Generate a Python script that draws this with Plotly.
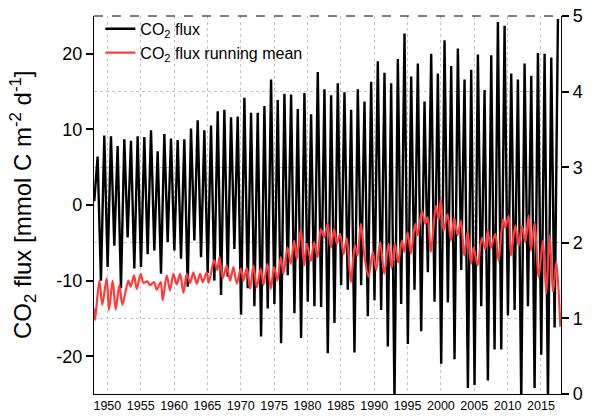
import plotly.graph_objects as go

# ---------------- data ----------------
years = list(range(1948, 2018))

# annual maximum of CO2 flux (around July) [mmol C m-2 d-1]
peak_flux = [6.4, 9.2, 9.1, 7.8, 8.7, 8.5, 9.1, 9.0, 9.9, 7.1,
             9.4, 8.8, 8.6, 8.7, 10.1, 11.2, 9.9, 10.5, 12.4, 12.6,
             11.6, 11.7, 14.2, 12.2, 12.2, 13.1, 16.6, 13.9, 14.7, 14.6,
             12.7, 14.8, 12.0, 17.6, 15.3, 14.5, 16.1, 14.9, 12.6, 15.3,
             13.7, 16.3, 19.0, 17.5, 16.1, 19.3, 22.7, 17.0, 18.7, 13.7,
             20.0, 17.4, 21.8, 18.4, 20.7, 16.6, 17.9, 19.9, 15.2, 19.8,
             24.2, 23.7, 17.4, 16.6, 18.7, 17.1, 20.1, 20.0, 19.5, 24.6]

# following winter minimum (January of the next year), years 1948..2016
trough_flux = [-10.0, -8.2, -5.4, -11.0, -4.3, -8.4, -8.2, -6.5, -6.0, -9.1,
               -4.9, -6.0, -7.1, -10.8, -4.7, -6.9, -9.0, -10.0, -11.9, -9.5,
               -5.8, -14.5, -11.0, -13.4, -17.4, -13.7, -13.1, -18.3, -9.3, -14.3,
               -17.6, -12.8, -13.4, -13.5, -19.6, -15.6, -10.6, -11.2, -19.5, -10.6,
               -14.7, -12.6, -13.9, -18.7, -26.0, -13.1, -18.4, -11.2, -16.7, -8.9,
               -12.8, -21.0, -12.9, -20.4, -8.6, -24.2, -23.8, -13.4, -23.2, -19.1,
               -19.1, -14.6, -13.9, -26.0, -13.4, -24.2, -19.8, -26.0, -16.2]

start_flux = 0.5
PEAK_MONTH = 7
TROUGH_MONTH = 1

# running mean (right axis): turning points (decimal year, value)
rm_year = [1948.0, 1948.15, 1948.8, 1949.25, 1949.9, 1950.25, 1950.8, 1951.25, 1951.8, 1952.25,
           1953.15, 1953.5, 1954.0, 1954.4, 1955.0, 1955.4, 1956.0, 1956.4, 1957.0, 1957.4,
           1958.0, 1958.3, 1958.9, 1959.4, 1959.9, 1960.4, 1960.9, 1961.4, 1961.9, 1962.4,
           1962.9, 1963.4, 1963.9, 1964.3, 1964.9, 1965.2, 1966.0, 1966.5, 1966.8, 1967.3,
           1967.9, 1968.4, 1968.9, 1969.4, 1970.0, 1970.4, 1970.9, 1971.4, 1971.9, 1972.4,
           1973.0, 1973.4, 1974.0, 1974.5, 1975.0, 1975.5, 1976.0, 1976.4, 1977.0, 1977.5,
           1978.0, 1978.4, 1979.0, 1979.5, 1979.9, 1980.5, 1981.0, 1981.5, 1982.0, 1982.5,
           1983.0, 1983.5, 1984.0, 1984.4, 1984.9, 1985.4, 1985.9, 1986.5, 1987.1, 1987.5,
           1988.0, 1988.5, 1989.15, 1989.8, 1990.3, 1990.9, 1991.5, 1992.15, 1992.6, 1993.1,
           1993.6, 1994.15, 1994.5, 1995.0, 1995.5, 1996.15, 1996.5, 1997.15, 1997.65, 1998.0,
           1998.5, 1999.25, 1999.65, 2000.0, 2000.4, 2001.0, 2001.5, 2002.0, 2002.5, 2003.0,
           2003.5, 2004.0, 2004.5, 2004.9, 2005.5, 2006.15, 2006.65, 2007.0, 2007.5, 2008.15,
           2008.65, 2009.3, 2009.65, 2010.15, 2010.5, 2011.15, 2011.65, 2012.15, 2012.65, 2013.15,
           2013.5, 2014.05, 2014.65, 2015.3, 2015.8, 2016.3, 2016.8, 2017.3, 2017.9]
rm_value = [1.13, 0.98, 1.50, 1.18, 1.53, 1.11, 1.50, 1.12, 1.44, 1.18,
            1.50, 1.42, 1.57, 1.39, 1.59, 1.47, 1.49, 1.44, 1.48, 1.38,
            1.48, 1.24, 1.57, 1.37, 1.59, 1.45, 1.59, 1.34, 1.59, 1.47,
            1.61, 1.46, 1.59, 1.48, 1.61, 1.47, 1.77, 1.64, 1.81, 1.53,
            1.70, 1.50, 1.68, 1.46, 1.66, 1.50, 1.67, 1.39, 1.70, 1.41,
            1.66, 1.44, 1.72, 1.39, 1.68, 1.50, 1.81, 1.59, 1.94, 1.72,
            2.03, 1.79, 2.18, 1.70, 1.99, 1.76, 2.01, 1.81, 2.18, 2.07,
            2.25, 1.94, 2.18, 1.99, 2.12, 1.85, 2.06, 1.48, 1.97, 1.83,
            2.25, 1.85, 1.55, 1.88, 1.64, 2.01, 1.59, 1.99, 1.66, 1.99,
            1.74, 2.03, 1.88, 2.14, 1.86, 2.25, 2.10, 2.42, 2.25, 2.34,
            1.88, 2.49, 2.31, 2.58, 2.16, 2.38, 2.03, 2.33, 2.10, 2.29,
            1.83, 2.15, 1.72, 1.94, 1.70, 2.07, 1.92, 2.16, 1.94, 2.12,
            1.76, 2.31, 2.20, 2.36, 1.83, 2.23, 1.96, 2.22, 2.01, 2.36,
            1.90, 2.27, 1.55, 2.03, 1.33, 2.10, 1.35, 1.75, 0.89]

x_ticks = [1950, 1955, 1960, 1965, 1970, 1975, 1980, 1985, 1990, 1995, 2000, 2005, 2010, 2015]
left_ticks = [-20, -10, 0, 10, 20]
left_ticktext = ["-20", "-10", "0", "10", "20"]
right_ticks = [0, 1, 2, 3, 4, 5]

# ---------------- build the flux line from the extrema ----------------
bx = [years[0] + (TROUGH_MONTH - 0.5) / 12]
by = [start_flux]
for i, yr in enumerate(years):
    bx.append(yr + (PEAK_MONTH - 0.5) / 12)
    by.append(peak_flux[i])
    if i < len(trough_flux):
        bx.append(yr + 1 + (TROUGH_MONTH - 0.5) / 12)
        by.append(trough_flux[i])

FONT = "Liberation Sans, Arial, sans-serif"
GRID = "#c4c4c4"

fig = go.Figure()
fig.add_trace(go.Scatter(
    x=bx, y=by, mode="lines", name="CO<sub>2</sub> flux",
    line=dict(color="black", width=2.4)))
fig.add_trace(go.Scatter(
    x=rm_year, y=rm_value, mode="lines", yaxis="y2",
    name="CO<sub>2</sub> flux running mean",
    line=dict(color="#ff3b3b", width=2.2, shape="spline", smoothing=0.8)))

fig.update_layout(
    width=592, height=418,
    margin=dict(l=94, r=31, t=14, b=24),
    paper_bgcolor="white", plot_bgcolor="white",
    font=dict(family=FONT, color="black"),
    showlegend=True,
    legend=dict(x=0.0136, y=1.011, xanchor="left", yanchor="top",
                bgcolor="rgba(0,0,0,0)", font=dict(size=16, family=FONT),
                tracegroupgap=0, itemwidth=30),
    xaxis=dict(range=[1948, 2018], tickvals=x_ticks, showgrid=True,
               gridcolor=GRID, griddash="dot", gridwidth=1,
               showline=True, linecolor="black", linewidth=1.2,
               ticks="", tickfont=dict(size=12.5), zeroline=False,
               automargin=False),
    yaxis=dict(range=[-25, 25], tickvals=left_ticks, ticktext=left_ticktext,
               showgrid=False, showline=True, linecolor="black", linewidth=1.2,
               ticks="outside", ticklen=7, tickwidth=1.5, tickcolor="black",
               tickfont=dict(size=18), zeroline=False, automargin=False),
    yaxis2=dict(range=[0, 5], tickvals=right_ticks, overlaying="y", side="right",
                showgrid=True, gridcolor=GRID, griddash="dot", gridwidth=1,
                showline=True, linecolor="black", linewidth=1.2,
                ticks="outside", ticklen=7, tickwidth=1.5, tickcolor="black",
                tickfont=dict(size=18), zeroline=False, automargin=False),
    shapes=[dict(type="line", xref="paper", yref="paper", x0=0, x1=1, y0=1, y1=1,
                 line=dict(color="black", width=1, dash="dash"))],
    annotations=[dict(text="CO<sub>2</sub> flux [mmol C m<sup>-2</sup> d<sup>-1</sup>]",
                      xref="paper", yref="paper", x=-0.152, y=0.5,
                      xanchor="center", yanchor="middle", textangle=-90,
                      showarrow=False, font=dict(size=24, family=FONT))],
)

fig.write_html("out.html",
               config={"displayModeBar": False},
               post_script="document.body.style.margin='0';"
                           "document.body.style.overflow='hidden';")
